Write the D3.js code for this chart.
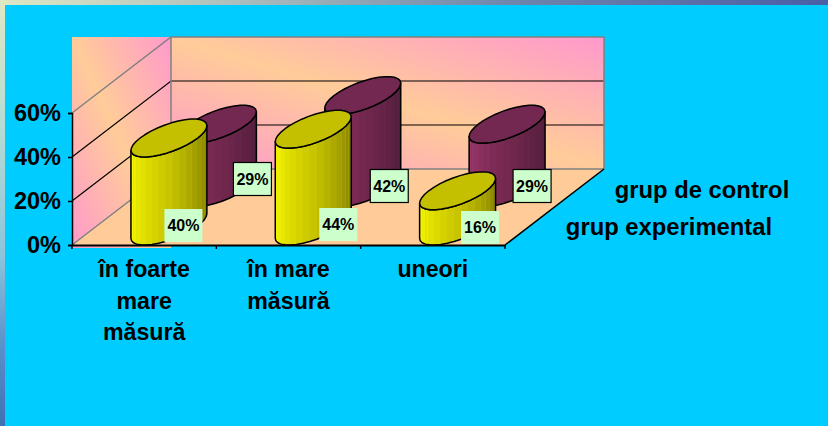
<!DOCTYPE html>
<html>
<head>
<meta charset="utf-8">
<script src="https://cdn.jsdelivr.net/npm/d3@7/dist/d3.min.js"></script>
<style>
  html, body { margin: 0; padding: 0; background: #00CCFF; overflow: hidden; }
  svg { display: block; }
  text { font-family: "Liberation Sans", Arial, sans-serif; font-weight: bold; fill: #000; }
</style>
</head>
<body>
<svg id="chart" width="828" height="426"></svg>
<script>
var categories = [['în foarte', 'mare', 'măsură'], ['în mare', 'măsură'], ['uneori']]
var seriesNames = ['grup de control', 'grup experimental']
var grupControl = [0.29, 0.42, 0.29]
var grupExperimental = [0.40, 0.44, 0.16]
var yTicks = [0, 0.2, 0.4, 0.6]

// label boxes were dragged by hand in the original, so nudge them off the bars
var controlNudge = [[34, -9], [26.5, -2], [25, -2]]
var experimentalNudge = [[14.5, -0.5], [25, -1.5], [22.5, 1.5]]

var depthX = 99, depthY = -76
var svg = d3.select('#chart')
var defs = svg.append('defs')

var x = d3.scaleBand().domain(d3.range(categories.length)).range([72, 505])
var y = d3.scaleLinear().domain([0, 0.6]).range([245, 113])

function px(i, d) { return x(i) + x.bandwidth() / 2 + depthX * d }
function py(v, d) { return y(v) + depthY * d }

function gradient(id, x1, y1, x2, y2, stops) {
  var g = defs.append('linearGradient').attr('id', id)
    .attr('gradientUnits', 'userSpaceOnUse')
    .attr('x1', x1).attr('y1', y1).attr('x2', x2).attr('y2', y2)
  stops.forEach(function(s) {
    g.append('stop').attr('offset', s[0]).attr('stop-color', s[1])
  })
}

gradient('edgeLeft', 0, 0, 0, 426, [[0, '#dfe8c4'], [0.3, '#b4dcd4'], [0.6, '#8cc4dc'], [0.8, '#5c94cc'], [1, '#3f6fb4']])
gradient('edgeTop', 0, 0, 828, 0, [[0, '#dfe8c4'], [0.3, '#a9bcbc'], [0.6, '#7088ac'], [1, '#4a5ea6']])
// pink in two opposite corners, peach along the other diagonal
gradient('sideWall', 40, 181, 203, 105, [[0, '#ff99cc'], [0.5, '#ffcc99'], [1, '#ff99cc']])
gradient('backWall', 352, 223, 424, -16, [[0, '#ff99cc'], [0.5, '#ffcc99'], [1, '#ff99cc']])

svg.append('rect').attr('width', 828).attr('height', 5).attr('fill', 'url(#edgeTop)')
svg.append('rect').attr('width', 5).attr('height', 426).attr('fill', 'url(#edgeLeft)')

// walls and floor
var x0 = x.range()[0], x1 = x.range()[1]
var top0 = y(0.6)
svg.append('rect').attr('x', x0).attr('y', top0 + depthY)
  .attr('width', depthX).attr('height', y(0) - top0 - depthY + 3)
  .attr('fill', 'url(#sideWall)')
svg.append('rect').attr('x', x0 + depthX).attr('y', top0 + depthY)
  .attr('width', x1 - x0).attr('height', y(0) - top0)
  .attr('fill', 'url(#backWall)')
svg.append('polygon').attr('fill', '#FFCC99')
  .attr('points', [[x0, y(0)], [x0 + depthX, y(0) + depthY], [x1 + depthX, y(0) + depthY], [x1, y(0)]].join(' '))

// gridlines on both walls
yTicks.forEach(function(t) {
  var edge = t === 0 || t === 0.6
  svg.append('polyline').attr('fill', 'none')
    .attr('stroke', edge ? '#808080' : '#000')
    .attr('stroke-width', edge ? 1.5 : 1.2)
    .attr('points', [[x0, y(t)], [x0 + depthX, py(t, 1)], [x1 + depthX, py(t, 1)]].join(' '))
})
svg.append('line').attr('stroke', '#808080').attr('stroke-width', 1.5)
  .attr('x1', x0 + depthX).attr('x2', x0 + depthX).attr('y1', py(0.6, 1)).attr('y2', py(0, 1))
svg.append('line').attr('stroke', '#808080').attr('stroke-width', 1.5)
  .attr('x1', x1 + depthX).attr('x2', x1 + depthX).attr('y1', py(0.6, 1)).attr('y2', py(0, 1))
svg.append('line').attr('stroke', '#000').attr('stroke-width', 1.5)
  .attr('x1', x1).attr('x2', x1 + depthX).attr('y1', y(0)).attr('y2', py(0, 1))

// one cylinder: circle in the floor plane, projected to an ellipse
var rx = 28.8, rd = 0.25
var tStart = Math.atan2(rd * depthX, rx)

function ringPoint(cx, cy, t) {
  return [cx + rx * Math.cos(t) + rd * depthX * Math.sin(t), cy + rd * depthY * Math.sin(t)]
}

function cylinder(g, i, v, d, colors) {
  var cx = px(i, d), yTop = py(v, d), yBase = py(0, d)
  var n = 17
  // front half runs from the right tangent round to the left tangent
  var frontT = d3.range(n + 1).map(function(k) { return tStart - Math.PI * k / n })
  var color = d3.scaleLinear().domain([0, 0.5, 1]).range(colors.body)

  var outline = frontT.map(function(t) { return ringPoint(cx, yBase, t) })
    .concat(frontT.slice().reverse().map(function(t) { return ringPoint(cx, yTop, t) }))
  g.append('polygon').attr('fill', color(0.5)).attr('points', outline.join(' '))

  d3.range(n).forEach(function(k) {
    var a = frontT[k], b = frontT[k + 1]
    g.append('polygon')
      .attr('fill', color(1 - (k + 0.5) / n))
      .attr('points', [ringPoint(cx, yBase, a), ringPoint(cx, yBase, b), ringPoint(cx, yTop, b), ringPoint(cx, yTop, a)].join(' '))
  })
  g.append('polygon').attr('fill', 'none').attr('stroke', '#000').attr('stroke-width', 1.5)
    .attr('stroke-linejoin', 'round').attr('points', outline.join(' '))

  var ring = d3.range(34).map(function(k) { return ringPoint(cx, yTop, Math.PI * 2 * k / 34) })
  g.append('polygon').attr('fill', colors.top).attr('stroke', '#000').attr('stroke-width', 1.5)
    .attr('stroke-linejoin', 'round').attr('points', ring.join(' '))
}

var controlColors = { top: '#722850', body: ['#a03a70', '#74284f', '#4a1c38'] }
var experimentalColors = { top: '#C4C000', body: ['#ffff00', '#c8c400', '#7c7800'] }

var bars = svg.append('g')
grupControl.forEach(function(v, i) { cylinder(bars, i, v, 0.75, controlColors) })
grupExperimental.forEach(function(v, i) { cylinder(bars, i, v, 0.25, experimentalColors) })

// axes
var yAxis = svg.append('g').attr('transform', 'translate(' + x0 + ',0)')
  .call(d3.axisLeft(y).tickValues(yTicks).tickFormat(d3.format('.0%')).tickSize(4).tickPadding(7))
yAxis.selectAll('text').style('font-size', '23.5px')
yAxis.selectAll('line').attr('stroke', '#000').attr('stroke-width', 1.5)
yAxis.select('.domain').attr('stroke', '#000').attr('stroke-width', 1.5)

var xAxis = svg.append('g').attr('transform', 'translate(0,' + y(0) + ')')
  .call(d3.axisBottom(x).tickSize(0).tickFormat(''))
xAxis.select('.domain').attr('stroke', '#000').attr('stroke-width', 2)

d3.range(categories.length + 1).forEach(function(k) {
  var tx = x0 + x.step() * k
  xAxis.append('line').attr('x1', tx).attr('x2', tx).attr('y1', 0).attr('y2', 4)
    .attr('stroke', '#000').attr('stroke-width', 1.5)
})

categories.forEach(function(lines, i) {
  var t = svg.append('text').attr('text-anchor', 'middle').style('font-size', '23.2px')
  lines.forEach(function(line, k) {
    t.append('tspan').attr('x', x(i) + x.bandwidth() / 2).attr('y', 277 + k * 31.5).text(line)
  })
})

// value boxes
function valueBox(cx, cy, v, bordered) {
  var w = 38, h = 33
  svg.append('rect').attr('x', cx - w / 2).attr('y', cy - h / 2).attr('width', w).attr('height', h)
    .attr('fill', '#CCFFCC')
    .attr('stroke', bordered ? '#000' : 'none').attr('stroke-width', 1.2)
  svg.append('text').attr('x', cx).attr('y', cy + 5.5).attr('text-anchor', 'middle')
    .style('font-size', '16px').text(d3.format('.0%')(v))
}
grupControl.forEach(function(v, i) {
  valueBox(px(i, 0.75) + controlNudge[i][0], py(0, 0.75) + controlNudge[i][1], v, true)
})
grupExperimental.forEach(function(v, i) {
  valueBox(px(i, 0.25) + experimentalNudge[i][0], py(0, 0.25) + experimentalNudge[i][1], v, false)
})

// series names sit along the depth axis
svg.append('text').attr('x', 702).attr('y', 198).attr('text-anchor', 'middle')
  .style('font-size', '23.8px').text(seriesNames[0])
svg.append('text').attr('x', 669).attr('y', 235).attr('text-anchor', 'middle')
  .style('font-size', '23.8px').text(seriesNames[1])
</script>
</body>
</html>
